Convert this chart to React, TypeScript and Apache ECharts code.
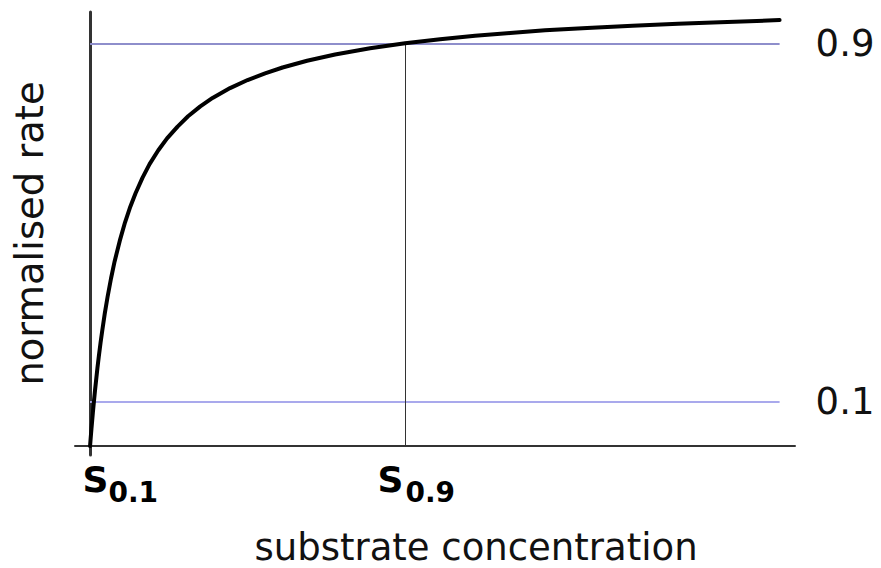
import React, { useEffect, useRef } from "react";
import * as echarts from "echarts";

// substrate concentration (units of K) and normalised rate
const substrate = [0, 0.02, 0.04, 0.06, 0.08, 0.11, 0.14, 0.17, 0.21, 0.25, 0.3, 0.35, 0.42, 0.5, 0.6, 0.7, 0.85, 1, 1.15, 1.3, 1.5, 1.7, 1.95, 2.2, 2.5, 2.8, 3.15, 3.5, 4, 4.5, 5, 5.5, 6.2, 7, 8, 9, 10, 11, 12, 13, 14.2, 15.5, 16.8, 18, 19.7];
const rate = [0, 0.0196, 0.0385, 0.0566, 0.074, 0.099, 0.123, 0.145, 0.174, 0.2, 0.231, 0.259, 0.296, 0.333, 0.375, 0.412, 0.459, 0.5, 0.535, 0.565, 0.6, 0.63, 0.661, 0.6875, 0.714, 0.737, 0.759, 0.778, 0.8, 0.818, 0.833, 0.846, 0.861, 0.875, 0.889, 0.9, 0.909, 0.917, 0.923, 0.929, 0.934, 0.939, 0.944, 0.947, 0.952];

const thresholds = [0.1, 0.9];
const thresholdLabels = ["0.1", "0.9"];
const thresholdColors = ["#a9a9ec", "#8e8ecb"];
const s09 = 9;
const curveEnd = 19.7;
const xTitle = "substrate concentration";
const yTitle = "normalised rate";
const sLabels = [
  { main: "S", sub: "0.1" },
  { main: "S", sub: "0.9" },
];

const FONT = "DejaVu Sans";

export default function App() {
  const ref = useRef<HTMLDivElement>(null);
  useEffect(() => {
    if (!ref.current) return;
    const chart = echarts.init(ref.current, null, { renderer: "svg" });
    const curve = substrate.map((s, i) => [s, rate[i]]);
    const hLines = thresholds.map((t, i) => [
      {
        coord: [0, t],
        lineStyle: { color: thresholdColors[i], width: 2, type: "solid" },
        label: {
          show: true,
          position: "end",
          distance: 36,
          formatter: thresholdLabels[i],
          color: "#111",
          fontSize: 37,
          fontFamily: FONT,
          padding: [7, 0, 0, 0],
        },
      },
      { coord: [curveEnd, t] },
    ]);
    const vLine = [
      {
        coord: [s09, 0],
        lineStyle: { color: "#333", width: 1, type: "solid" },
        label: { show: false },
      },
      { coord: [s09, thresholds[1]] },
    ];
    const sPos = [82.5, 377.5];
    const subPos = [108.5, 405.5];
    const graphics: any[] = [];
    sLabels.forEach((l, i) => {
      graphics.push({
        type: "text",
        x: sPos[i],
        y: 479,
        style: { text: l.main, font: `bold 36px "${FONT}"`, fill: "#000", verticalAlign: "middle", align: "left" },
      });
      graphics.push({
        type: "text",
        x: subPos[i],
        y: 492,
        style: { text: l.sub, font: `bold 28px "${FONT}"`, fill: "#000", verticalAlign: "middle", align: "left" },
      });
    });
    chart.setOption({
      animation: false,
      backgroundColor: "#fff",
      grid: { left: 75, right: 86, top: 12, bottom: 113, containLabel: false, outerBoundsMode: "none" },
      xAxis: {
        type: "value",
        min: -0.43,
        max: 20.14,
        name: xTitle,
        nameLocation: "middle",
        nameGap: 74,
        nameTextStyle: { fontSize: 37, fontFamily: FONT, color: "#111", padding: [0, 0, 0, 82] },
        axisLine: { show: true, onZero: true, lineStyle: { color: "#333", width: 2 } },
        axisTick: { show: false },
        axisLabel: { show: false },
        splitLine: { show: false },
      },
      yAxis: {
        type: "value",
        min: -0.02,
        max: 0.97,
        name: yTitle,
        nameLocation: "middle",
        nameRotate: 90,
        nameGap: 26,
        nameTextStyle: { fontSize: 38.5, fontFamily: FONT, color: "#111" },
        axisLine: { show: true, onZero: true, lineStyle: { color: "#333", width: 3 } },
        axisTick: { show: false },
        axisLabel: { show: false },
        splitLine: { show: false },
      },
      series: [
        {
          type: "line",
          data: curve,
          showSymbol: false,
          smooth: false,
          lineStyle: { color: "#000", width: 4, join: "round", cap: "round" },
          z: 5,
          markLine: {
            silent: true,
            symbol: "none",
            animation: false,
            data: [...hLines, vLine],
          },
        },
      ],
      graphic: graphics,
    });
    return () => chart.dispose();
  }, []);
  return <div ref={ref} style={{ position: "fixed", left: 0, top: 0, width: 881, height: 568 }} />;
}
